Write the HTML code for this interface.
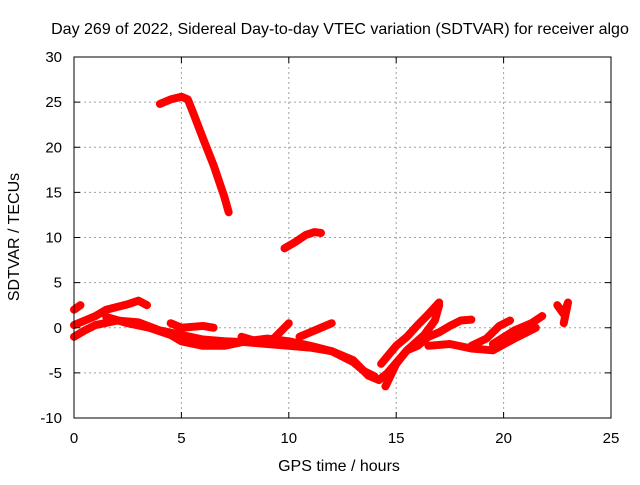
<!DOCTYPE html>
<html><head><meta charset="utf-8"><style>
body{margin:0;background:#fff;}
svg text{font-family:"Liberation Sans",sans-serif;font-size:15px;fill:#000;}
svg text.big{font-size:16px;}
</style></head><body>
<svg id="chart" width="640" height="480">
<rect x="0" y="0" width="640" height="480" fill="#fff"/>
<g id="grid"></g><g id="marks"></g><g id="axes"></g>
</svg>
<script>
const xTicks=[0,5,10,15,20,25];
const yTicks=[-10,-5,0,5,10,15,20,25,30];
const trackA=[[4.0,24.8],[4.5,25.3],[5.0,25.6],[5.3,25.3],[5.6,23.5],[6.0,21],[6.5,18],[7.0,14.5],[7.2,12.8]];
const trackB=[[9.8,8.8],[10.3,9.5],[10.8,10.3],[11.2,10.6],[11.5,10.5]];
const trackC=[[0,0.3],[0.5,0.8],[1,1.3],[1.5,2],[2,2.3],[2.5,2.6],[3,3],[3.4,2.5]];
const trackD=[[0,-1],[0.5,-0.3],[1,0.3],[2,0.8],[3,0.6],[4,-0.3],[5,-0.8],[6,-1.3],[7,-1.5],[8,-1.6],[9,-1.8],[10,-2],[11,-2.2],[12,-2.6],[13,-3.8],[13.5,-4.8],[14,-5.4]];
const trackE=[[1.5,1.2],[2.5,0.5],[3.5,0],[4.5,-0.8],[5,-1.5],[6,-2],[7,-2],[8,-1.5],[9,-1.2],[10,-1.5],[11,-2],[12,-2.6],[13,-3.6],[13.7,-5.3],[14.2,-5.8],[14.6,-5],[15.5,-2.5],[16.3,-0.8],[16.8,0.8],[17,2.5]];
const trackF=[[4.5,0.5],[5,0],[6,0.2],[6.5,0]];
const trackG=[[7.8,-1],[8.5,-1.5],[9.3,-1.2],[10,0.5]];
const trackH=[[10.5,-1],[11.5,0],[12,0.5]];
const trackI=[[14.3,-4],[15,-2],[15.5,-1],[16,0.3],[16.5,1.5],[17,2.8]];
const trackJ=[[14.5,-6.5],[15,-4],[15.5,-2.5],[16,-2],[16.5,-1],[17,-0.5],[17.5,0.2],[18,0.8],[18.5,0.9]];
const trackK=[[16.5,-2],[17.5,-1.8],[18.5,-2.3],[19.5,-2.5],[20.5,-1.2],[21.5,0]];
const trackL=[[18.5,-2],[19.2,-1.2],[19.8,0.2],[20.3,0.8]];
const trackM=[[19.5,-1.8],[20.5,-0.3],[21.3,0.5],[21.8,1.3]];
const trackN=[[22.5,2.5],[22.8,1.5],[23,2.8],[22.8,0.5]];
const trackO=[[0,2],[0.3,2.5]];
const tracks=[trackA,trackB,trackC,trackD,trackE,trackF,trackG,trackH,trackI,trackJ,trackK,trackL,trackM,trackN,trackO];

const X0=74,X1=611,Y0=418,Y1=57;
const xs=v=>X0+(v-0)/(25-0)*(X1-X0);
const ys=v=>Y0-(v+10)/40*(Y0-Y1);
const NS="http://www.w3.org/2000/svg";
function mk(tag,parent){const e=document.createElementNS(NS,tag);parent.appendChild(e);return e;}
const grid=document.getElementById('grid'),marks=document.getElementById('marks'),axes=document.getElementById('axes');

xTicks.forEach(t=>{
  if(t>0&&t<25){const l=mk('line',grid);l.setAttribute('x1',xs(t));l.setAttribute('x2',xs(t));l.setAttribute('y1',Y1);l.setAttribute('y2',Y0);l.setAttribute('stroke','#a0a0a0');l.setAttribute('stroke-dasharray','2,3');
  
  }
  const tk=mk('text',axes);tk.setAttribute('x',xs(t));tk.setAttribute('y',443);tk.setAttribute('text-anchor','middle');tk.textContent=t;
  
  
  [[Y0,Y0-6],[Y1,Y1+6]].forEach(p=>{const m=mk('line',axes);m.setAttribute('x1',xs(t));m.setAttribute('x2',xs(t));m.setAttribute('y1',p[0]);m.setAttribute('y2',p[1]);m.setAttribute('stroke','#000');});
});
yTicks.forEach(t=>{
  if(t>-10&&t<30){const l=mk('line',grid);l.setAttribute('x1',X0);l.setAttribute('x2',X1);l.setAttribute('y1',ys(t));l.setAttribute('y2',ys(t));l.setAttribute('stroke','#a0a0a0');l.setAttribute('stroke-dasharray','2,3');
  
  }
  const tk=mk('text',axes);tk.setAttribute('x',62);tk.setAttribute('y',ys(t)+5);tk.setAttribute('text-anchor','end');tk.textContent=t;
  
  
  [[X0,X0+6],[X1,X1-6]].forEach(p=>{const m=mk('line',axes);m.setAttribute('y1',ys(t));m.setAttribute('y2',ys(t));m.setAttribute('x1',p[0]);m.setAttribute('x2',p[1]);m.setAttribute('stroke','#000');});
});
const fr=mk('rect',axes);fr.setAttribute('x',X0);fr.setAttribute('y',Y1);fr.setAttribute('width',X1-X0);fr.setAttribute('height',Y0-Y1);fr.setAttribute('fill','none');fr.setAttribute('stroke','#000');



tracks.forEach(tr=>{
  const p=mk('polyline',marks);
  p.setAttribute('points',tr.map(d=>xs(d[0])+','+ys(d[1])).join(' '));
  p.setAttribute('fill','none');p.setAttribute('stroke','#ff0000');p.setAttribute('stroke-width','8');p.setAttribute('stroke-linejoin','round');p.setAttribute('stroke-linecap','round');
  
  
});

const ti=mk('text',axes);ti.setAttribute('x',340);ti.setAttribute('y',34);ti.setAttribute('text-anchor','middle');ti.setAttribute('class','big');ti.textContent='Day 269 of 2022, Sidereal Day-to-day VTEC variation (SDTVAR) for receiver algo';


const xl=mk('text',axes);xl.setAttribute('x',339);xl.setAttribute('y',471);xl.setAttribute('text-anchor','middle');xl.setAttribute('class','big');xl.textContent='GPS time / hours';


const yl=mk('text',axes);yl.setAttribute('x',19);yl.setAttribute('y',237);yl.setAttribute('text-anchor','middle');yl.setAttribute('class','big');yl.setAttribute('transform','rotate(-90 19 237)');yl.textContent='SDTVAR / TECUs';


</script>
</body></html>
